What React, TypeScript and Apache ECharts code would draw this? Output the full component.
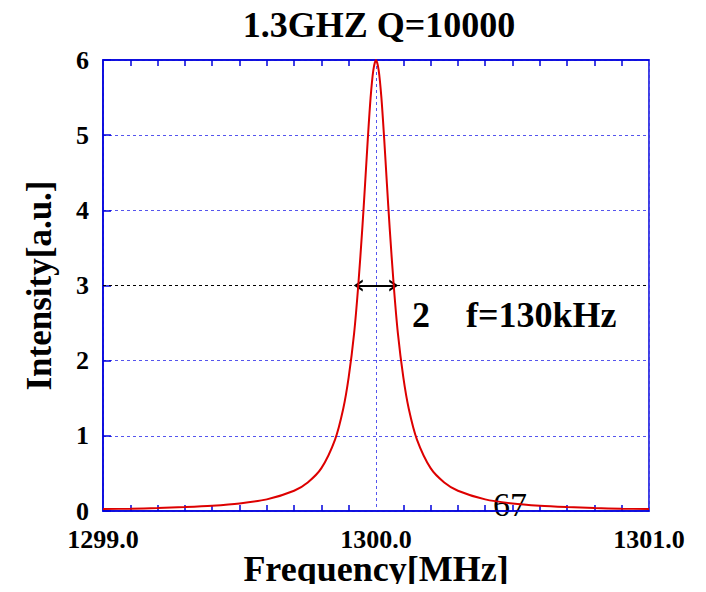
import React, { useEffect, useRef } from "react";
import * as echarts from "echarts";

const TITLE = "1.3GHZ Q=10000";
const X_NAME = "Frequency[MHz]";
const Y_NAME = "Intensity[a.u.]";
const X_TICKS = [1299.0, 1300.0, 1301.0];
const Y_TICKS = [0, 1, 2, 3, 4, 5, 6];

// Points (frequency in MHz, intensity a.u.)
const FREQS = [
  1299.0, 1299.1, 1299.2, 1299.3, 1299.4, 1299.5, 1299.6, 1299.7, 1299.75, 1299.8,
  1299.85, 1299.88, 1299.9, 1299.92, 1299.935, 1299.95, 1299.96, 1299.97, 1299.98, 1299.99,
  1300.0,
  1300.01, 1300.02, 1300.03, 1300.04, 1300.05, 1300.065, 1300.08, 1300.1, 1300.12, 1300.15,
  1300.2, 1300.25, 1300.3, 1300.4, 1300.5, 1300.6, 1300.7, 1300.8, 1300.9, 1301.0,
];
const INTENSITY = [
  0.025, 0.031, 0.039, 0.052, 0.07, 0.10, 0.155, 0.27, 0.38, 0.57,
  0.95, 1.36, 1.78, 2.37, 3.0, 3.77, 4.35, 4.95, 5.49, 5.86,
  6.0,
  5.86, 5.49, 4.95, 4.35, 3.77, 3.0, 2.37, 1.78, 1.36, 0.95,
  0.57, 0.38, 0.27, 0.155, 0.10, 0.07, 0.052, 0.039, 0.031, 0.025,
];
const HALF_MAX = 3;
const FWHM_LEFT = 1299.935;
const FWHM_RIGHT = 1300.065;

const SERIF = "'Liberation Serif', 'Times New Roman', serif";
const AXIS_BLUE = "#0000dd";
const GRID_BLUE = "#5555ee";
const CHEVRON = "path://M0,10 L5,0 L10,10 L8,10 L5,4 L2,10 Z";

export default function App() {
  const ref = useRef<HTMLDivElement>(null);
  useEffect(() => {
    if (!ref.current) return;
    const chart = echarts.init(ref.current, null, { renderer: "svg" });
    const data = FREQS.map((f, i) => [f, INTENSITY[i]]);
    const xMin = X_TICKS[0];
    const xMax = X_TICKS[X_TICKS.length - 1];
    chart.setOption({
      animation: false,
      backgroundColor: "#ffffff",
      title: {
        text: TITLE,
        left: 374,
        top: 2,
        textAlign: "center",
        textStyle: { fontFamily: SERIF, fontWeight: "bold", fontSize: 36, color: "#000" },
      },
      grid: {
        left: 103,
        right: 57,
        top: 60,
        bottom: 81,
        outerBoundsMode: "none",
        containLabel: false,
        show: true,
        borderColor: AXIS_BLUE,
        borderWidth: 1.5,
        backgroundColor: "transparent",
      },
      xAxis: [
        {
          type: "value",
          min: xMin,
          max: xMax,
          interval: 1,
          name: X_NAME,
          nameLocation: "middle",
          nameGap: 40,
          nameMoveOverlap: false,
          nameTextStyle: { fontFamily: SERIF, fontWeight: "bold", fontSize: 36, color: "#000" },
          axisLine: { show: true, lineStyle: { color: AXIS_BLUE, width: 1.5 } },
          axisTick: { show: false, inside: true },
          minorTick: { show: true, splitNumber: 10, length: 6, lineStyle: { color: AXIS_BLUE, width: 1.5 } },
          axisLabel: {
            fontFamily: SERIF,
            fontWeight: "bold",
            fontSize: 26,
            color: "#000",
            margin: 15,
            formatter: (v: number) => v.toFixed(1),
          },
          splitLine: { show: true, lineStyle: { color: GRID_BLUE, type: [3, 3], width: 1 } },
        },
        {
          type: "value",
          position: "top",
          min: xMin,
          max: xMax,
          interval: 1,
          axisLine: { show: true, lineStyle: { color: AXIS_BLUE, width: 1.5 } },
          axisTick: { show: false, inside: true },
          minorTick: { show: true, splitNumber: 10, length: 6, lineStyle: { color: AXIS_BLUE, width: 1.5 } },
          axisLabel: { show: false },
          splitLine: { show: false },
        },
      ],
      yAxis: {
        type: "value",
        min: 0,
        max: 6,
        interval: 1,
        name: Y_NAME,
        nameLocation: "middle",
        nameGap: 46,
        nameMoveOverlap: false,
        nameTextStyle: { fontFamily: SERIF, fontWeight: "bold", fontSize: 35, color: "#000" },
        axisLine: { show: true, lineStyle: { color: AXIS_BLUE, width: 1.5 } },
        axisTick: { show: true, inside: true, length: 8, lineStyle: { color: AXIS_BLUE, width: 1.5 } },
        axisLabel: {
          fontFamily: SERIF,
          fontWeight: "bold",
          fontSize: 26,
          color: "#000",
          margin: 14,
          formatter: (v: number) => (Y_TICKS.includes(v) ? String(v) : ""),
        },
        splitLine: { show: true, lineStyle: { color: GRID_BLUE, type: [3, 3], width: 1 } },
      },
      series: [
        {
          type: "line",
          data,
          showSymbol: false,
          smooth: 0.3,
          lineStyle: { color: "#dd0000", width: 2 },
          z: 5,
          markLine: {
            silent: true,
            symbol: "none",
            label: { show: false },
            data: [
              [
                { coord: [xMin, HALF_MAX], lineStyle: { color: "#000", type: [3, 3], width: 1 } },
                { coord: [xMax, HALF_MAX] },
              ],
              [
                {
                  coord: [FWHM_LEFT, HALF_MAX],
                  symbol: CHEVRON,
                  symbolSize: [12, 9],
                  lineStyle: { color: "#000", type: "solid", width: 2 },
                },
                { coord: [FWHM_RIGHT, HALF_MAX], symbol: CHEVRON, symbolSize: [12, 9] },
              ],
            ],
          },
        },
      ],
      graphic: [
        {
          type: "text",
          left: 412,
          top: 297,
          style: { text: "2", font: `bold 36px ${SERIF}`, fill: "#000" },
        },
        {
          type: "text",
          left: 466,
          top: 297,
          style: { text: "f=130kHz", font: `bold 36px ${SERIF}`, fill: "#000" },
        },
        {
          type: "text",
          left: 493,
          top: 487,
          style: { text: "67", font: `34px ${SERIF}`, fill: "#000" },
        },
      ],
    });
    return () => chart.dispose();
  }, []);
  return <div ref={ref} style={{ width: 706, height: 592, margin: -8 }} />;
}
